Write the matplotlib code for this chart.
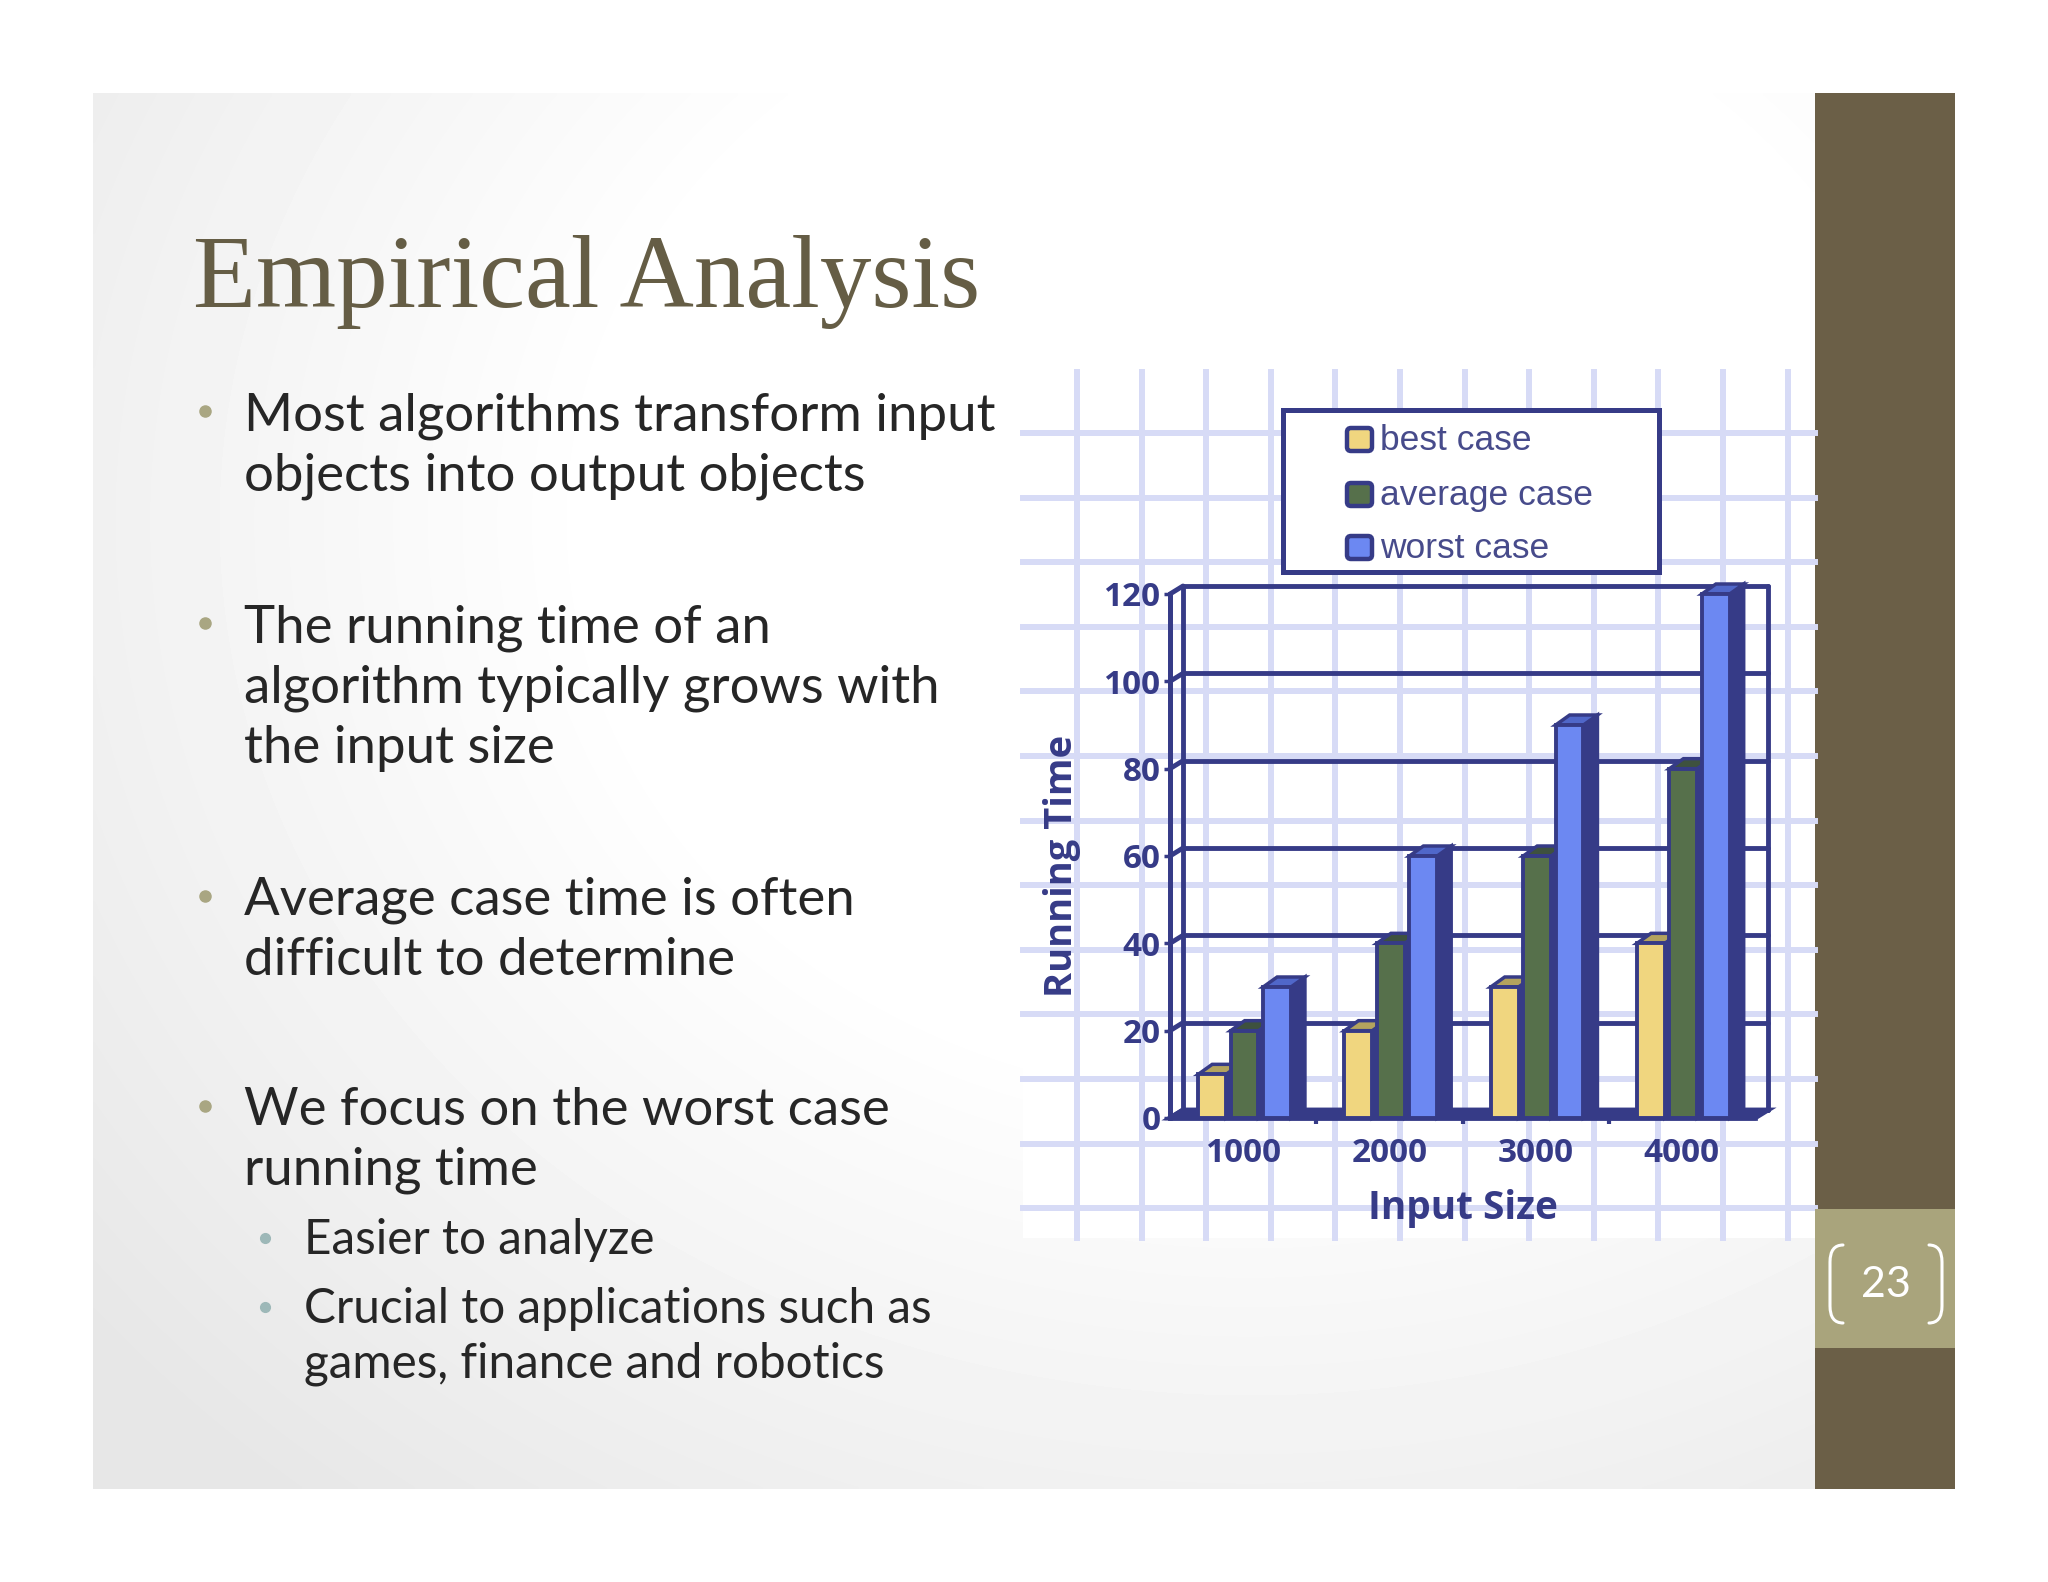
import numpy as np
import matplotlib.pyplot as plt
from matplotlib.patches import Rectangle, Polygon, FancyBboxPatch, PathPatch
from matplotlib.path import Path

# --- dati del grafico ---
sizes = ["1000", "2000", "3000", "4000"]
best_case = [10, 20, 30, 40]
average_case = [20, 40, 60, 80]
worst_case = [30, 60, 90, 120]
series_names = ["best case", "average case", "worst case"]
y_ticks = [0, 20, 40, 60, 80, 100, 120]

# --- testo della slide ---
title = "Empirical Analysis"
main_lines = ["Most algorithms transform input", "objects into output objects",
              "The running time of an", "algorithm typically grows with", "the input size",
              "Average case time is often", "difficult to determine",
              "We focus on the worst case", "running time"]
sub_lines = ["Easier to analyze", "Crucial to applications such as",
             "games, finance and robotics"]
page_no = "23"

navy = "#363b87"
front_cols = ["#f0d67f", "#56704b", "#6c88f2"]
top_cols = ["#b3a35e", "#3e513f", "#5067c9"]
text_col = "#262626"
chart_font = "Open Sans"

W, H = 2048, 1582
fig = plt.figure(figsize=(W / 100, H / 100), dpi=100)
fig.patch.set_facecolor("white")
bg = fig.add_axes([0, 0, 1, 1])
bg.set_xlim(0, W)
bg.set_ylim(H, 0)
bg.axis("off")
renderer = fig.canvas.get_renderer()


def fit_size(txt, target_px, base=40, **kw):
    t = bg.text(0, 0, txt, fontsize=base, **kw)
    w = t.get_window_extent(renderer).width
    t.remove()
    return base * target_px / w


# sfondo slide (sfumatura radiale)
yy, xx = np.mgrid[93:1489:4, 93:1815:4]
r = np.hypot((xx - 1250) / 1300, (yy - 520) / 1100)
shade = 1 - 0.095 * np.clip((r - 0.5) / 0.65, 0, 1)
bg.imshow(shade, cmap="gray", vmin=0, vmax=1, extent=(93, 1815, 1489, 93),
          interpolation="bilinear", aspect="auto", zorder=0)

# barra laterale
bg.add_patch(Rectangle((1815, 93), 140, 1396, fc="#6b5f47", ec="none", zorder=1))
bg.add_patch(Rectangle((1815, 1209), 140, 139, fc="#a9a47c", ec="none", zorder=2))
for sgn in (1, -1):
    cx = 1886
    xs = [cx - sgn * 43, cx - sgn * 56, cx - sgn * 56, cx - sgn * 56, cx - sgn * 56, cx - sgn * 43]
    ys = [1245, 1245, 1262, 1306, 1323, 1323]
    codes = [Path.MOVETO, Path.CURVE3, Path.CURVE3, Path.LINETO, Path.CURVE3, Path.CURVE3]
    bg.add_patch(PathPatch(Path(list(zip(xs, ys)), codes), fc="none", ec="white",
                           lw=2.2, capstyle="round", zorder=3))
bg.text(1886, 1285, page_no, color="white", fontsize=31, family="Lato",
        ha="center", va="center", zorder=3)

# titolo
ts = fit_size(title, 787, family="Liberation Serif")
bg.text(193, 307, title, fontsize=ts, family="Liberation Serif", color="#655d45",
        ha="left", va="baseline", zorder=3)

# elenco puntato
ms = fit_size(main_lines[0], 751, family="Lato")
ss = fit_size(sub_lines[1], 628, family="Lato")
main_y = [411, 471, 623, 683, 744, 896, 956, 1106, 1166]
for txt, yc in zip(main_lines, main_y):
    bg.text(244, yc + 19, txt, fontsize=ms, family="Lato", color=text_col,
            va="baseline", zorder=3)
for yc in [411, 623, 896, 1106]:
    bg.plot(205, yc, "o", ms=8, color="#a9a682", zorder=3)
sub_y = [1238, 1307, 1362]
for txt, yc in zip(sub_lines, sub_y):
    bg.text(304, yc + 16, txt, fontsize=ss, family="Lato", color=text_col,
            va="baseline", zorder=3)
for yc in [1238, 1307]:
    bg.plot(265, yc, "o", ms=7, color="#9db8b8", zorder=3)

# carta a quadretti dietro al grafico
bg.add_patch(Rectangle((1023, 372), 1815 - 1023, 1238 - 372, fc="white", ec="none", zorder=1))
for gx in np.arange(1077, 1815, 64.6):
    bg.plot([gx, gx], [372, 1238], color="#d7dbf6", lw=4.3, zorder=1.5)
for gy in np.arange(433, 1238, 64.6):
    bg.plot([1023, 1815], [gy, gy], color="#d7dbf6", lw=4.3, zorder=1.5)

# legenda
bg.add_patch(Rectangle((1283, 410), 376, 162, fc="white", ec=navy, lw=3.6, zorder=4))
lfs = fit_size(series_names[1], 212, family="Liberation Sans")
for name, col, yc in zip(series_names, front_cols, [440, 495, 548]):
    bg.add_patch(FancyBboxPatch((1347, yc - 12), 25, 23, boxstyle="round,pad=0,rounding_size=4",
                                fc=col, ec=navy, lw=3.2, zorder=5))
    bg.text(1380, yc, name, fontsize=lfs, family="Liberation Sans",
            color="#474b8b", va="center", zorder=5)

yls = fit_size("Running Time", 262, family=chart_font, fontweight="bold")
bg.text(1062, 866, "Running Time", rotation=90, fontsize=yls, fontweight="bold",
        family=chart_font, color=navy, ha="center", va="center", zorder=3)
xls = fit_size("Input Size", 190, family=chart_font, fontweight="bold")
bg.text(1463, 1208, "Input Size", fontsize=xls, fontweight="bold", family=chart_font,
        color=navy, ha="center", va="center", zorder=3)
tks = fit_size("1000", 76, family=chart_font, fontweight="bold")

# --- grafico a barre "3D" ---
ax = fig.add_axes([1170 / W, 1 - 1118 / H, (1755 - 1170) / W, (1118 - 594) / H])
ax.patch.set_alpha(0)
ax.set_xlim(-0.5, 3.5)
ax.set_ylim(0, 120)
px_x = (1755 - 1170) / 4
px_y = (1118 - 594) / 120
dxd, dyd = 13 / px_x, 8 / px_y
bdx, bdy = 14 / px_x, 10 / px_y

for s in ("top", "right"):
    ax.spines[s].set_visible(False)
for s in ("left", "bottom"):
    ax.spines[s].set_color(navy)
    ax.spines[s].set_linewidth(3.4)

line_kw = dict(color=navy, lw=3.5, clip_on=False, solid_capstyle="round")
for t in y_ticks:
    ax.plot([-0.5 + dxd, 3.5 + dxd], [t + dyd, t + dyd], **line_kw)
    ax.plot([-0.5, -0.5 + dxd], [t, t + dyd], **line_kw)
ax.plot([-0.5 + dxd] * 2, [dyd, 120 + dyd], **line_kw)
ax.plot([3.5 + dxd] * 2, [dyd, 120 + dyd], **line_kw)
ax.plot([-0.5] * 2, [0, 120], **line_kw)
ax.add_patch(Polygon([(-0.5, 0), (3.5, 0), (3.5 + dxd, dyd), (-0.5 + dxd, dyd)],
                     fc=navy, ec=navy, lw=3.5, clip_on=False, zorder=2))

x = np.arange(len(sizes))
bw = 0.19
for k, (vals, fcol, tcol) in enumerate(zip([best_case, average_case, worst_case],
                                           front_cols, top_cols)):
    bars = ax.bar(x + (k - 1) * 0.222 + 0.01, vals, bw, color=fcol,
                  edgecolor=navy, linewidth=2.8)
    for i, p in enumerate(bars):
        z = 3 + i * 10 + k * 3
        l, w, h = p.get_x(), p.get_width(), p.get_height()
        rgt = l + w
        ax.add_patch(Polygon([(rgt, 0), (rgt + bdx, bdy), (rgt + bdx, h + bdy), (rgt, h)],
                             fc=navy, ec=navy, lw=2.5, zorder=z, clip_on=False))
        ax.add_patch(Polygon([(l, h), (l + bdx, h + bdy), (rgt + bdx, h + bdy), (rgt, h)],
                             fc=tcol, ec=navy, lw=2.5, zorder=z + 1, clip_on=False))
        p.set_zorder(z + 2)
        p.set_clip_on(False)

ax.set_yticks(y_ticks)
ax.set_xticks(x, sizes)
ax.set_xticks([0.5, 1.5, 2.5], minor=True)
ax.tick_params(axis="y", colors=navy, length=4, width=2.5, pad=3, labelsize=tks)
ax.tick_params(axis="x", which="major", length=0, pad=14, labelsize=tks, labelcolor=navy)
ax.tick_params(axis="x", which="minor", length=4, width=3, color=navy, direction="out")
for lab in ax.get_xticklabels() + ax.get_yticklabels():
    lab.set_fontweight("bold")
    lab.set_family(chart_font)

fig.savefig("out.png", dpi=100)
